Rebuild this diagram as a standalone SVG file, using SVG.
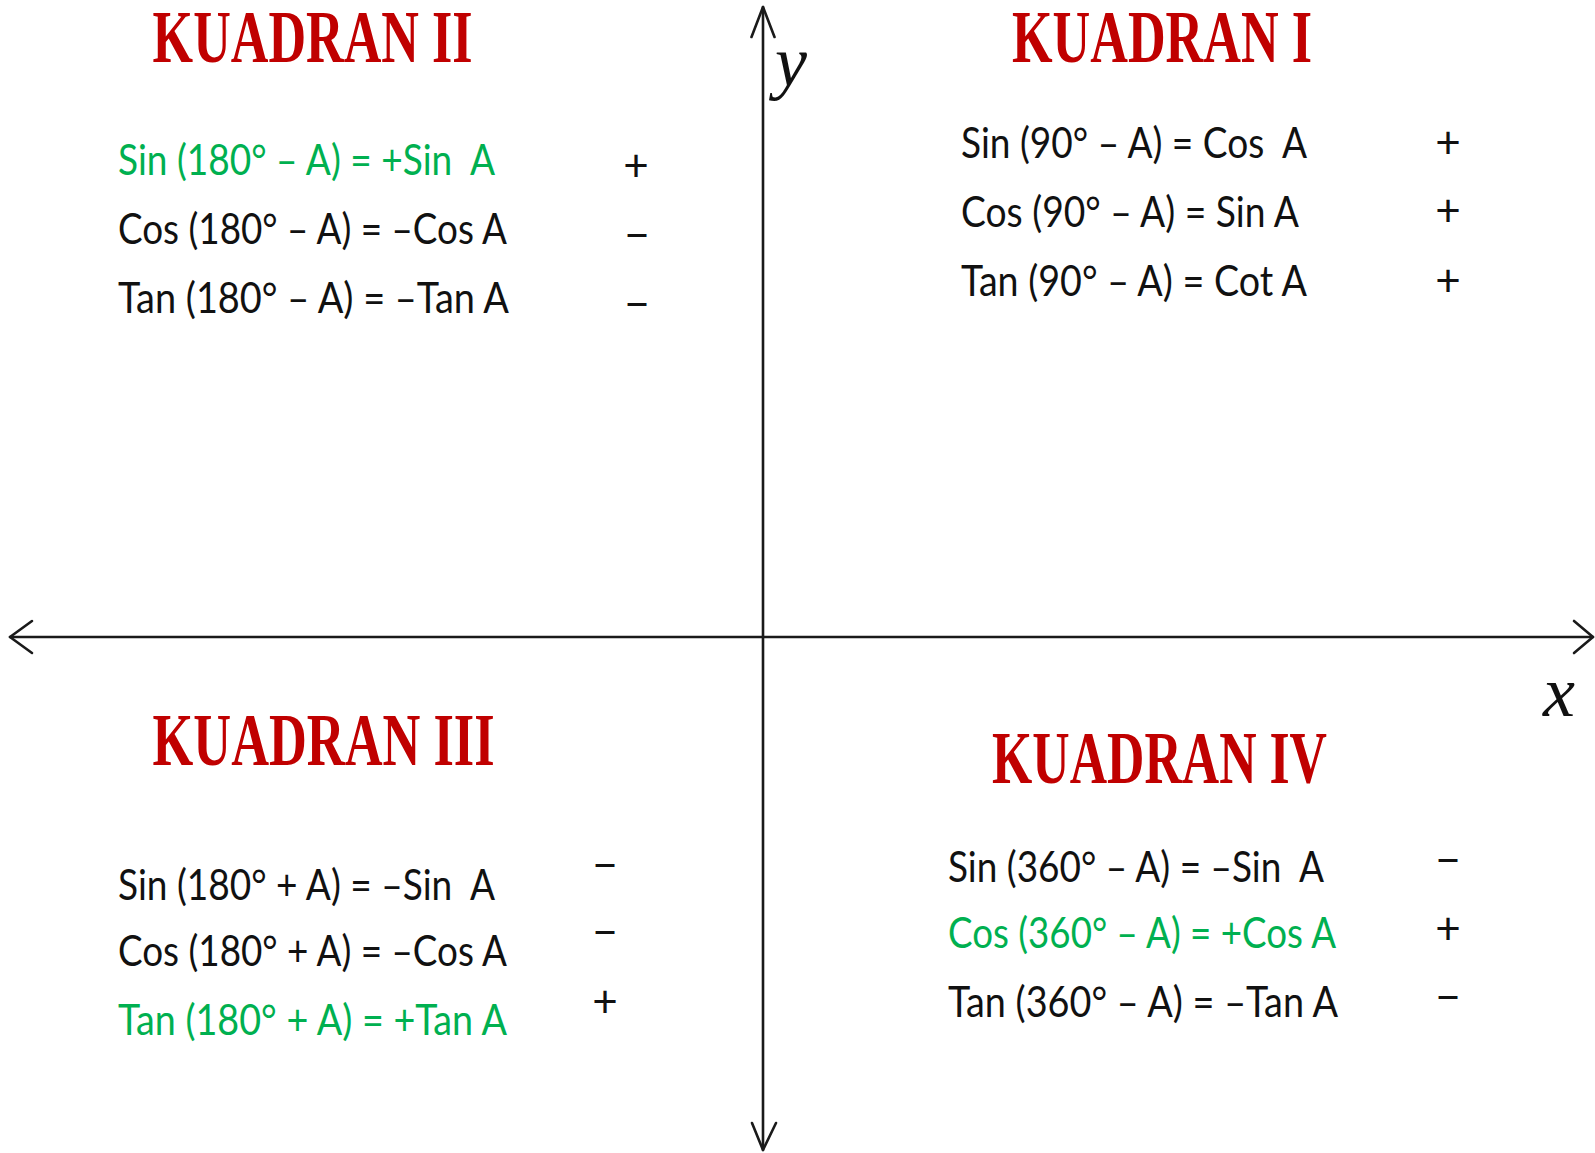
<svg xmlns="http://www.w3.org/2000/svg" width="1595" height="1153" viewBox="0 0 1595 1153">
  <style>
    .title { font-family: "Liberation Serif", "Times New Roman", serif; font-weight: bold; font-size: 74px; fill: #C00000; }
    .f { font-family: Lato, "Liberation Sans", sans-serif; font-size: 43px; fill: #111111; white-space: pre; }
    .g { fill: #00B050; }
    .sign { font-family: Lato, "Liberation Sans", sans-serif; font-size: 44px; fill: #111111; text-anchor: middle; }
    .axis { fill: none; stroke: #1a1a1a; stroke-width: 2.6; stroke-linecap: round; stroke-linejoin: round; }
    .lbl { font-family: "Liberation Serif", "Times New Roman", serif; font-style: italic; font-size: 72px; fill: #111111; }
  </style>
  <rect width="1595" height="1153" fill="#ffffff"/>

  <g id="connectors">
    <path class="axis" d="M10,637 H1593"/>
    <path class="axis" d="M32,621 L10,637 L32,653"/>
    <path class="axis" d="M1574,621 L1593,637 L1574,653"/>
    <path class="axis" d="M763,7 V1150"/>
    <path class="axis" d="M751.5,37 L763,7 L774.5,37"/>
    <path class="axis" d="M752,1123 L763,1150 L776,1123"/>
  </g>

  <g id="axis-labels">
    <text class="lbl" x="775" y="86">y</text>
    <text class="lbl" x="1543" y="716">x</text>
  </g>

  <g id="kuadran-2">
    <text class="title" x="152.6" y="62" textLength="320" lengthAdjust="spacingAndGlyphs">KUADRAN II</text>
    <text class="f g" x="118" y="175" textLength="377" lengthAdjust="spacingAndGlyphs" xml:space="preserve">Sin (180° – A) = +Sin  A</text>
    <text class="f" x="118" y="244" textLength="389" lengthAdjust="spacingAndGlyphs">Cos (180° – A) = –Cos A</text>
    <text class="f" x="118" y="313" textLength="391" lengthAdjust="spacingAndGlyphs">Tan (180° – A) = –Tan A</text>
    <text class="sign" x="636" y="181">+</text>
    <text class="sign" x="637" y="251">−</text>
    <text class="sign" x="637" y="320">−</text>
  </g>

  <g id="kuadran-1">
    <text class="title" x="1012" y="62" textLength="300" lengthAdjust="spacingAndGlyphs">KUADRAN I</text>
    <text class="f" x="961" y="158" textLength="346" lengthAdjust="spacingAndGlyphs" xml:space="preserve">Sin (90° – A) = Cos  A</text>
    <text class="f" x="961" y="227" textLength="338" lengthAdjust="spacingAndGlyphs">Cos (90° – A) = Sin A</text>
    <text class="f" x="961" y="296" textLength="346" lengthAdjust="spacingAndGlyphs">Tan (90° – A) = Cot A</text>
    <text class="sign" x="1448" y="158">+</text>
    <text class="sign" x="1448" y="226">+</text>
    <text class="sign" x="1448" y="296">+</text>
  </g>

  <g id="kuadran-3">
    <text class="title" x="152.6" y="765" textLength="342" lengthAdjust="spacingAndGlyphs">KUADRAN III</text>
    <text class="f" x="118" y="900" textLength="377" lengthAdjust="spacingAndGlyphs" xml:space="preserve">Sin (180° + A) = –Sin  A</text>
    <text class="f" x="118" y="966" textLength="389" lengthAdjust="spacingAndGlyphs">Cos (180° + A) = –Cos A</text>
    <text class="f g" x="118" y="1035" textLength="389" lengthAdjust="spacingAndGlyphs">Tan (180° + A) = +Tan A</text>
    <text class="sign" x="605" y="881">−</text>
    <text class="sign" x="605" y="948">−</text>
    <text class="sign" x="605" y="1017">+</text>
  </g>

  <g id="kuadran-4">
    <text class="title" x="992" y="783" textLength="335" lengthAdjust="spacingAndGlyphs">KUADRAN IV</text>
    <text class="f" x="948" y="882" textLength="376" lengthAdjust="spacingAndGlyphs" xml:space="preserve">Sin (360° – A) = –Sin  A</text>
    <text class="f g" x="948" y="948" textLength="388" lengthAdjust="spacingAndGlyphs">Cos (360° – A) = +Cos A</text>
    <text class="f" x="948" y="1017" textLength="390" lengthAdjust="spacingAndGlyphs">Tan (360° – A) = –Tan A</text>
    <text class="sign" x="1448" y="876">−</text>
    <text class="sign" x="1448" y="944">+</text>
    <text class="sign" x="1448" y="1013">−</text>
  </g>
</svg>
